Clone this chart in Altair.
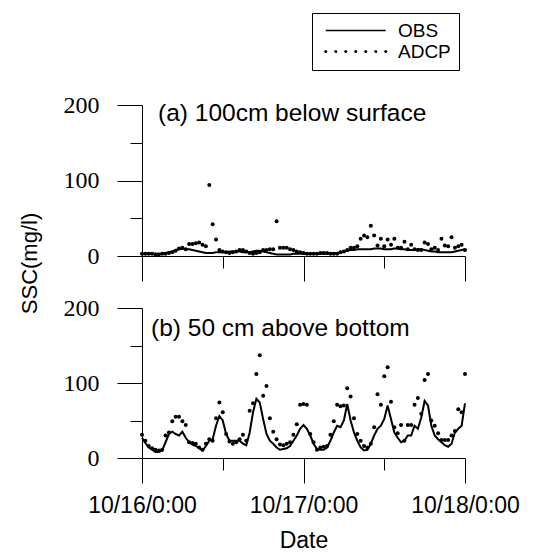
import altair as alt
import pandas as pd

# ---- data (30-minute sampling) ----
obs_a = [3, 3, 3, 3, 3, 3, 3, 4, 5,
         6, 8, 9, 10,
         9, 9, 8, 7, 6, 5, 4, 4,
         4, 5, 5, 5, 5, 6, 6, 6, 6, 5,
         5, 5, 6, 7, 7, 6, 5, 4,
         3, 2, 2, 2, 2, 2, 3, 3,
         3, 3, 3, 3, 3, 3, 3, 3, 3, 3, 4, 4,
         5, 6, 7, 8, 8, 9, 9, 9,
         9, 9, 10, 10, 10, 9, 9, 9, 10, 10, 9, 9, 8, 8,
         8, 9, 9, 8, 7, 6, 6, 5, 5, 5,
         5, 5, 6, 7, 8, 9]
adcp_a = [3, 3, 3, 3, 2, 2, 3, 3, 4, 5,
          7, 10, 11, 9, 16, 16, 17, 18, 15, 13,
          94, 42, 22, 8, 6, 5, 4, 5, 6, 8,
          8, 6, 4, 3, 4, 5, 8, 8, 9, 9,
          46, 11, 11, 11, 9, 8, 6, 5, 4, 3,
          3, 3, 3, 4, 4, 4, 3, 3, 3, 5,
          6, 8, 11, 11, 13, 23, 27, 25, 40, 27,
          14, 23, 13, 22, 15, 23, 11, 11, 19, 9,
          15, 9, 8, 8, 18, 16, 9, 11, 8, 23,
          14, 13, 25, 11, 13, 15, 8]
obs_b = [27, 20, 14, 11, 8, 8, 10, 21, 32, 35,
         32, 30, 35, 27, 21, 18, 16, 13, 10, 16,
         23, 25, 43, 56, 50, 32, 23, 23, 23, 23,
         19, 17, 34, 61, 79, 74, 52, 32, 23, 19,
         14, 11, 12, 13, 16, 23, 30, 39, 44, 39,
         30, 19, 12, 11, 11, 14, 23, 34, 43, 41,
         50, 72, 50, 34, 23, 14, 10, 11, 19, 30,
         39, 43, 52, 70, 52, 34, 27, 21, 23, 30,
         30, 43, 39, 54, 76, 70, 43, 30, 25, 21,
         17, 15, 19, 34, 39, 43, 73]
adcp_b = [31, 23, 16, 13, 11, 10, 11, 30, 34, 49,
          55, 55, 49, 44, 21, 20, 19, 14, 11, 19,
          25, 23, 53, 74, 61, 32, 22, 19, 21, 25,
          31, 23, 63, 73, 112, 137, 83, 96, 53, 35,
          25, 18, 17, 19, 21, 31, 45, 71, 72, 71,
          32, 21, 11, 14, 15, 16, 31, 49, 71, 69,
          70, 93, 82, 53, 32, 23, 16, 14, 19, 41,
          85, 71, 109, 121, 75, 41, 33, 44, 23, 44,
          44, 71, 80, 59, 104, 112, 50, 43, 33, 24,
          24, 24, 30, 36, 65, 61, 112]
legend_series = ["OBS", "ADCP"]
panel_titles = ["(a) 100cm below surface", "(b) 50 cm above bottom"]
x_tick_days = [16, 17, 18]
y_ticks = [0, 50, 100, 150, 200]

times = pd.date_range("2008-10-16 00:00", "2008-10-18 00:00", freq="30min")
df_a = pd.DataFrame({"time": times, "OBS": obs_a, "ADCP": adcp_a})
df_b = pd.DataFrame({"time": times, "OBS": obs_b, "ADCP": adcp_b})

x_values = []
for d in x_tick_days:
    x_values.append(alt.DateTime(year=2008, month=10, date=d, hours=0))
    if d != x_tick_days[-1]:
        x_values.append(alt.DateTime(year=2008, month=10, date=d, hours=12))
x_domain = [alt.DateTime(year=2008, month=10, date=16, hours=0),
            alt.DateTime(year=2008, month=10, date=18, hours=0)]

SANS = "Liberation Sans"
SERIF = "Liberation Serif"


def x_enc(show_labels):
    ax = alt.Axis(
        values=x_values,
        tickSize={"condition": {"test": "hours(datum.value) == 0", "value": 25}, "value": 12},
        labels=show_labels,
        labelExpr="hours(datum.value) == 0 ? timeFormat(datum.value, '%m/%d/%-H:%M') : ''",
        labelFont=SANS, labelFontSize=23, labelColor="black", labelPadding=11,
        labelOverlap=False, labelFlush=False,
        titleFont=SANS, titleFontSize=23, titleFontWeight="normal", titleColor="black",
        titlePadding=12,
        grid=False,
    )
    return alt.X("time:T", scale=alt.Scale(domain=x_domain), axis=ax,
                 title="Date" if show_labels else None)


def y_enc(field, show_title):
    kw = dict(
        values=y_ticks,
        tickSize={"condition": {"test": "datum.value % 100 == 0", "value": 25}, "value": 12},
        labelExpr="datum.value % 100 == 0 ? datum.label : ''",
        labelFont=SERIF, labelFontSize=24, labelColor="black", labelPadding=18,
        labelOverlap=False, labelFlush=False,
        grid=False,
    )
    if show_title:
        kw.update(titleFont=SANS, titleFontSize=22, titleFontWeight="normal",
                  titleColor="black", titleX=-113, titleY=-45, titleAngle=270,
                  titleAlign="center", titleBaseline="middle")
    return alt.Y(f"{field}:Q", scale=alt.Scale(domain=[0, 200], nice=False),
                 axis=alt.Axis(**kw), title="SSC(mg/l)" if show_title else None)


def panel(df, title_text, dx, dy, show_x_labels, show_y_title, height, with_legend):
    base = alt.Chart(df)
    line = base.mark_line(color="black", strokeWidth=2).encode(
        x=x_enc(show_x_labels),
        y=y_enc("OBS", show_y_title),
    )
    pts = base.mark_circle(color="black", size=16, opacity=1).encode(
        x=x_enc(show_x_labels),
        y=y_enc("ADCP", show_y_title),
    )
    label = alt.Chart(pd.DataFrame({"label": [title_text]})).mark_text(
        align="left", baseline="alphabetic", font=SANS, fontSize=24.5, color="black"
    ).encode(text="label:N", x=alt.value(dx), y=alt.value(dy))
    layers = [line, pts, label]
    if with_legend:
        r = 0.1
        xs = [-0.5 + k * 8 / 6 for k in range(7)]
        dots_path = "".join(
            f"M{cx - r:.4f},0a{r},{r} 0 1,0 {2 * r},0a{r},{r} 0 1,0 {-2 * r},0" for cx in xs
        )
        line_path = "M-0.5,0L7.5,0"
        leg_df = pd.DataFrame({"series": legend_series})
        leg = alt.Chart(leg_df).mark_point(filled=False, color="black", strokeWidth=1.6, opacity=1).encode(
            shape=alt.Shape(
                "series:N",
                scale=alt.Scale(domain=legend_series, range=[line_path, dots_path]),
                legend=alt.Legend(
                    title=None, orient="none", legendX=170, legendY=-92, direction="vertical",
                    strokeColor="black", fillColor="white", padding=8,
                    symbolSize=225, symbolStrokeWidth=1.6, symbolStrokeColor="black",
                    labelFont=SANS, labelFontSize=19, labelColor="black",
                    labelOffset=59, rowPadding=1,
                ),
            )
        ).transform_filter("false")
        layers.append(leg)
    return alt.layer(*layers).properties(width=323, height=height)


panel_a = panel(df_a, panel_titles[0], 16, 16, False, False, 151, True)
panel_b = panel(df_b, panel_titles[1], 9, 28, True, True, 150, False)

chart = alt.vconcat(panel_a, panel_b, spacing=52, bounds="flush").resolve_legend(
    shape="independent"
).properties(
    padding={"left": 10, "top": 4, "right": 5, "bottom": 0},
    background="white",
).configure_view(stroke=None).configure_axis(
    domainColor="black", tickColor="black", domainWidth=1, tickWidth=1,
).configure_axisY(labelFont=SERIF).configure_axisX(labelFont=SANS)

chart.save("out.html", embed_options={"renderer": "svg", "actions": False})
